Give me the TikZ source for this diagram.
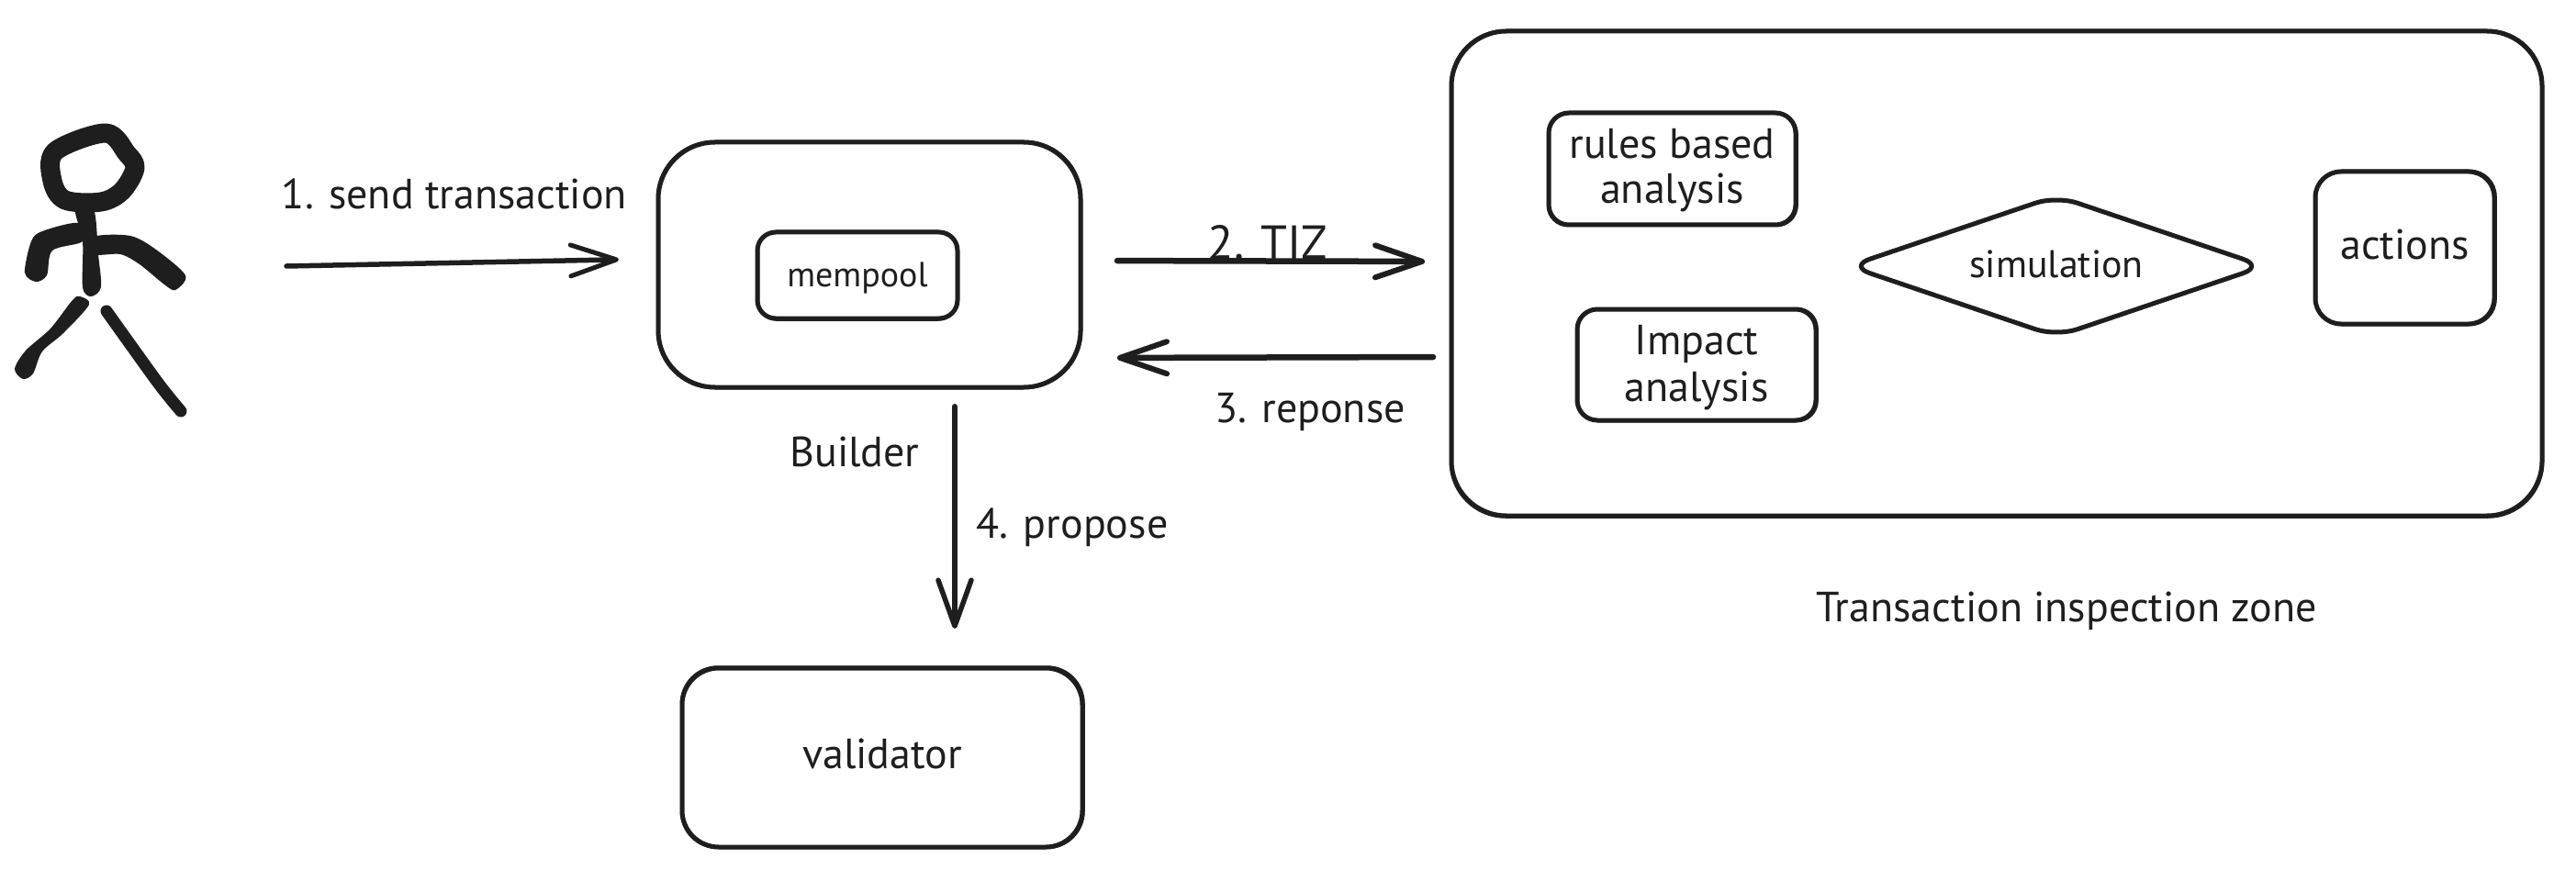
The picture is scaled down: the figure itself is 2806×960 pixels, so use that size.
\documentclass[tikz,border=0pt]{standalone}
\usepackage{fontspec}
\setmainfont{PT Sans}
\usetikzlibrary{arrows.meta,shapes.geometric}
\definecolor{ink}{HTML}{1E1E1E}
\newcommand{\Lift}[2]{\raisebox{#1pt}[0pt][0pt]{#2}}
\newcommand{\LineAt}[2]{\makebox[0pt]{\raisebox{#1pt}[0pt][0pt]{#2}}}
\tikzset{
  sketchbox/.style={draw=ink,line width=5pt,rectangle,rounded corners=#1,inner sep=0pt,outer sep=0pt,
    text height=0pt,text depth=0pt,font=\fontsize{46}{50}\selectfont,text=ink},
  retrace/.style={draw=ink,line width=2.5pt,rounded corners=#1},
  caption/.style={font=\fontsize{46}{50}\selectfont,text=ink,anchor=base,inner sep=0pt},
  flow/.style={draw=ink,line width=#1pt,line cap=round},
}
\begin{document}
\begin{tikzpicture}[x=1pt,y=-1pt]
\useasboundingbox[fill=white] (0,0) rectangle (2806,960);

% stick figure
\draw[ink,line width=21pt,line join=round] plot[smooth cycle,tension=0.55] coordinates
  {(115,145) (60,165) (57,197) (71,218) (110,220) (133,208) (147,183) (138,167)};
\fill[ink] plot[smooth cycle,tension=0.5] coordinates
  {(82,228) (102,228) (107,277) (110,313) (99,323) (90,313) (90,263)};
\fill[ink] plot[smooth cycle,tension=0.5] coordinates
  {(85,243) (46,252) (34,263) (27,297) (39,307) (51,300) (57,273) (90,263)};
\fill[ink] plot[smooth cycle,tension=0.5] coordinates
  {(102,258) (142,257) (170,272) (202,300) (191,316) (179,310) (152,288) (131,277) (102,277)};
\fill[ink] plot[smooth cycle,tension=0.5] coordinates
  {(87,323) (97,332) (69,363) (46,383) (36,407) (25,413) (16,402) (28,382) (55,358) (79,327)};
\draw[ink,line width=13pt,line cap=round] plot[smooth,tension=0.5] coordinates
  {(116,339) (172,417) (197,448)};

% boxes
\node[sketchbox=62pt,minimum width=460pt,minimum height=267pt] (builder) at (947,288.5) {};
\node[sketchbox=20pt,minimum width=218pt,minimum height=94pt] (mempool) at (934,300)
  {\fontsize{38}{42}\selectfont\Lift{-12}{mempool}};
\node[sketchbox=40pt,minimum width=436pt,minimum height=195pt] (validator) at (961,825.5) {\Lift{-12}{validator}};
\node[sketchbox=60pt,minimum width=1188pt,minimum height=528pt] (zone) at (2175,298) {};
\node[sketchbox=22pt,minimum width=269pt,minimum height=122pt] (rules) at (1821.5,184)
  {\LineAt{11}{rules based}\LineAt{-38}{analysis}};
\node[sketchbox=22pt,minimum width=260pt,minimum height=121pt] (impact) at (1848,397.5)
  {\LineAt{11.5}{Impact}\LineAt{-39.5}{analysis}};
\node[sketchbox=28pt,minimum width=195pt,minimum height=166pt] (actions) at (2619.5,270) {\Lift{-12}{actions}};
\node[draw=ink,line width=5pt,diamond,rounded corners=24pt,inner sep=0pt,outer sep=0pt,aspect=2.87,
  minimum width=452pt,minimum height=153pt,text height=0pt,text depth=0pt,
  font=\fontsize{42}{46}\selectfont,text=ink] (simulation) at (2240,290) {\Lift{-13}{simulation}};

% hand-drawn second passes
\draw[retrace=62pt] ([shift={(-1,-1)}]builder.north west) rectangle ([shift={(1,1)}]builder.south east);
\draw[retrace=20pt] ([shift={(1,-1)}]mempool.north west) rectangle ([shift={(-1,1.5)}]mempool.south east);
\draw[retrace=40pt] ([shift={(-1,-1.5)}]validator.north west) rectangle ([shift={(1.5,1)}]validator.south east);
\draw[retrace=60pt] ([shift={(-1,-1)}]zone.north west) rectangle ([shift={(1,1.5)}]zone.south east);
\draw[retrace=22pt] ([shift={(-1,1)}]rules.north west) rectangle ([shift={(1.5,1)}]rules.south east);
\draw[retrace=22pt] ([shift={(1,-1)}]impact.north west) rectangle ([shift={(1.5,1)}]impact.south east);
\draw[retrace=28pt] ([shift={(1,-1)}]actions.north west) rectangle ([shift={(1.5,1)}]actions.south east);

% connectors
\coordinate (actorfront) at (312,290);
\draw[flow=5.5,-{Straight Barb[length=50pt,width=34pt,line width=5pt,round]},shorten >=43pt]
  (actorfront) -- ([yshift=6.5pt]builder.west);
\draw[flow=6.5,-{Straight Barb[length=51pt,width=35pt,line width=6pt,round]},shorten <=40pt,shorten >=29pt]
  ([yshift=4.5pt]builder.east) -- ([yshift=13pt]zone.west);
\draw[flow=6.5,-{Straight Barb[length=51pt,width=35pt,line width=6pt,round]},shorten <=20pt,shorten >=40pt]
  ([yshift=-91pt]zone.west) -- ([yshift=-101.5pt]builder.east);
\draw[flow=6,-{Straight Barb[length=50pt,width=36pt,line width=5.5pt,round]},shorten <=21pt,shorten >=43pt]
  ([xshift=93pt]builder.south) -- ([xshift=79pt]validator.north);

% labels
\node[caption] (send) at (495,228) {1. send transaction};
\node[caption,font=\fontsize{52}{56}\selectfont] (tiz) at (1381,282) {2. TIZ};
\node[caption] (reponse) at (1427,460) {3. reponse};
\node[caption] (buildername) at (931,508) {Builder};
\node[caption] (propose) at (1168,586) {4. propose};
\node[caption] (zonename) at (2251,677) {Transaction inspection zone};
\end{tikzpicture}
\end{document}
